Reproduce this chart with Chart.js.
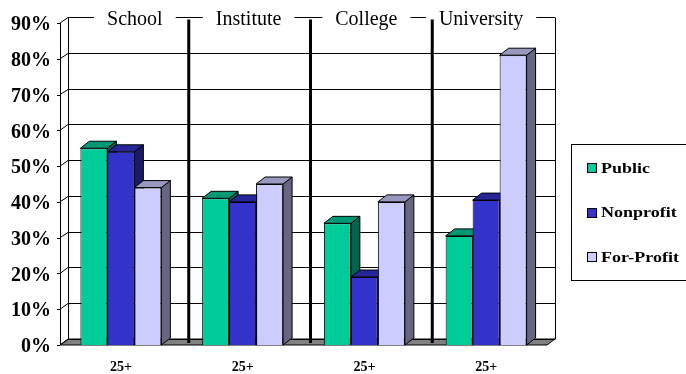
<!DOCTYPE html>
<html><head><meta charset="utf-8">
<script src="https://cdn.jsdelivr.net/npm/chart.js@4/dist/chart.umd.min.js"></script>
<style>html,body{margin:0;padding:0;background:#fff}canvas{display:block}</style>
</head><body>
<canvas id="c" width="686" height="374"></canvas>
<script>
// ---- data ----
const categories = ['25+', '25+', '25+', '25+'];
const sections = ['School', 'Institute', 'College', 'University'];
const seriesNames = ['Public', 'Nonprofit', 'For-Profit'];
const publicVals = [55, 41, 34, 30.5];
const nonprofitVals = [54, 40, 19, 40.5];
const forProfitVals = [44, 45, 40, 81];
const yMin = 0, yMax = 90, yStep = 10;

// ---- styles ----
const frontColors = ['#00CC99', '#3333CC', '#CCCCFF'];
const topColors = ['#009973', '#262699', '#9999BF'];
const sideColors = ['#006650', '#1A1A66', '#666680'];
const DX = 9, DY = -7;   // bar depth
const WX = 8, WY = -6;   // wall depth
const sectionNudge = [14, 6, 2, -5];
const SERIF = '"Liberation Serif", "Times New Roman", serif';

function px(v) { return Math.round(v) + 0.5; }

const threeD = {
  id: 'threeD',
  beforeDatasetsDraw(chart) {
    const ctx = chart.ctx;
    const xs = chart.scales.x, ys = chart.scales.y;
    const { left: L, right: R, top: T, bottom: B } = chart.chartArea;
    ctx.save();
    // floor
    ctx.beginPath();
    ctx.moveTo(L, B); ctx.lineTo(R, B); ctx.lineTo(R + WX, B + WY); ctx.lineTo(L + WX, B + WY); ctx.closePath();
    ctx.fillStyle = '#808080'; ctx.fill();
    ctx.strokeStyle = '#000'; ctx.lineWidth = 1; ctx.stroke();
    // back-wall gridlines & side-wall diagonals
    ctx.beginPath();
    ys.ticks.forEach(t => {
      const yf = ys.getPixelForValue(t.value);
      const yb = px(yf + WY);
      ctx.moveTo(L + WX, yb); ctx.lineTo(R + WX, yb);
      ctx.moveTo(L, yf); ctx.lineTo(L + WX, yb);
      ctx.moveTo(L - 3, px(yf)); ctx.lineTo(L, px(yf));
    });
    const yTopB = px(ys.getPixelForValue(yMax) + WY), yBotB = px(ys.getPixelForValue(yMin) + WY);
    ctx.moveTo(px(L + WX), yTopB); ctx.lineTo(px(L + WX), yBotB);
    ctx.moveTo(px(R + WX), yTopB); ctx.lineTo(px(R + WX), yBotB);
    ctx.moveTo(px(L), T); ctx.lineTo(px(L), B);
    ctx.stroke();
    // section titles along the top gridline
    ctx.font = '20px ' + SERIF;
    ctx.textAlign = 'center'; ctx.textBaseline = 'alphabetic';
    sections.forEach((s, i) => {
      const cx = xs.getPixelForValue(i) + sectionNudge[i];
      const w = ctx.measureText(s).width;
      ctx.fillStyle = '#fff';
      ctx.fillRect(cx - w / 2 - 13, yTopB - 4, w + 26, 7);
      ctx.fillStyle = '#000';
      ctx.fillText(s, cx, yTopB + 7);
    });
    // thick separators between sections
    ctx.lineWidth = 3; ctx.beginPath();
    for (let k = 1; k < categories.length; k++) {
      const sx = (xs.getPixelForValue(k - 1) + xs.getPixelForValue(k)) / 2 + 7;
      ctx.moveTo(sx, yTopB + 2); ctx.lineTo(sx, B - 2);
    }
    ctx.stroke();
    ctx.lineWidth = 1;
    // bars: side, top, then front (library element)
    chart.data.datasets.forEach((ds, di) => {
      const meta = chart.getDatasetMeta(di);
      meta.data.forEach(el => {
        const { x, y, base, width } = el.getProps(['x', 'y', 'base', 'width'], true);
        const xl = x - width / 2, xr = x + width / 2;
        ctx.beginPath();
        ctx.moveTo(xr, y); ctx.lineTo(xr + DX, y + DY); ctx.lineTo(xr + DX, base + DY); ctx.lineTo(xr, base); ctx.closePath();
        ctx.fillStyle = sideColors[di]; ctx.fill(); ctx.strokeStyle = '#000'; ctx.stroke();
        ctx.beginPath();
        ctx.moveTo(xl, y); ctx.lineTo(xl + DX, y + DY); ctx.lineTo(xr + DX, y + DY); ctx.lineTo(xr, y); ctx.closePath();
        ctx.fillStyle = topColors[di]; ctx.fill(); ctx.stroke();
        el.draw(ctx, chart.chartArea);
      });
    });
    ctx.restore();
    return false;
  },
  afterDraw(chart) {
    const ctx = chart.ctx;
    ctx.save();
    ctx.strokeStyle = '#000'; ctx.lineWidth = 1;
    ctx.strokeRect(571.5, 144.5, 130, 136);
    ctx.font = 'bold 15px ' + SERIF;
    ctx.textAlign = 'left'; ctx.textBaseline = 'middle';
    chart.data.datasets.forEach((ds, i) => {
      const yc = 168 + i * 44.5;
      ctx.fillStyle = ds.backgroundColor;
      ctx.fillRect(587, Math.round(yc) - 5, 10, 10);
      ctx.strokeRect(587.5, Math.round(yc) - 4.5, 9, 9);
      ctx.save();
      ctx.translate(601, yc + 1);
      ctx.scale(1.2, 1);
      ctx.fillStyle = '#000';
      ctx.fillText(ds.label, 0, 0);
      ctx.restore();
    });
    ctx.restore();
  }
};

new Chart(document.getElementById('c'), {
  type: 'bar',
  data: {
    labels: categories,
    datasets: [
      { label: seriesNames[0], data: publicVals, backgroundColor: frontColors[0] },
      { label: seriesNames[1], data: nonprofitVals, backgroundColor: frontColors[1] },
      { label: seriesNames[2], data: forProfitVals, backgroundColor: frontColors[2] }
    ]
  },
  options: {
    responsive: false,
    animation: false,
    devicePixelRatio: 1,
    layout: { padding: { left: 0, right: 139, top: 23, bottom: 0 } },
    datasets: { bar: { borderColor: '#000', borderWidth: 1, categoryPercentage: 0.665, barPercentage: 1.0 } },
    plugins: { legend: { display: false }, tooltip: { enabled: false } },
    scales: {
      x: {
        grid: { display: false, drawTicks: false },
        border: { display: false },
        ticks: { color: '#000', font: { family: SERIF, size: 14, weight: 'bold' }, padding: 14, maxRotation: 0 },
        afterFit(s) { s.height = 29; }
      },
      y: {
        min: yMin, max: yMax,
        grid: { display: false, drawTicks: false },
        border: { display: false },
        ticks: { stepSize: yStep, color: '#000', padding: 9, labelOffset: 2,
          font: { family: SERIF, size: 20, weight: 'bold' },
          callback: v => v + '%' },
        afterFit(s) { s.width = 60; }
      }
    }
  },
  plugins: [threeD]
});
</script>
</body></html>
